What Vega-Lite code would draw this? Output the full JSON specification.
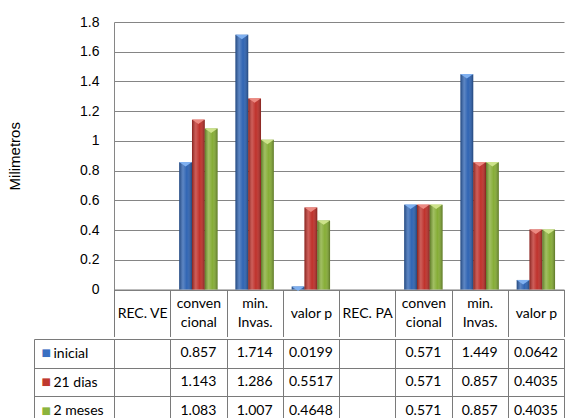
{
  "$schema": "https://vega.github.io/schema/vega-lite/v6.json",
  "background": "white",
  "padding": {"left": 7, "top": 15, "right": 0, "bottom": 0},
  "spacing": -5,
  "config": {"view": {"stroke": null}},
  "datasets": {
    "tabla": [
      {"col": "REC. VE", "serie": "inicial", "valor": null},
      {"col": "REC. VE", "serie": "21 dias", "valor": null},
      {"col": "REC. VE", "serie": "2 meses", "valor": null},
      {"col": "conven/cional (VE)", "serie": "inicial", "valor": 0.857},
      {"col": "conven/cional (VE)", "serie": "21 dias", "valor": 1.143},
      {"col": "conven/cional (VE)", "serie": "2 meses", "valor": 1.083},
      {"col": "min./Invas. (VE)", "serie": "inicial", "valor": 1.714},
      {"col": "min./Invas. (VE)", "serie": "21 dias", "valor": 1.286},
      {"col": "min./Invas. (VE)", "serie": "2 meses", "valor": 1.007},
      {"col": "valor p (VE)", "serie": "inicial", "valor": 0.0199},
      {"col": "valor p (VE)", "serie": "21 dias", "valor": 0.5517},
      {"col": "valor p (VE)", "serie": "2 meses", "valor": 0.4648},
      {"col": "REC. PA", "serie": "inicial", "valor": null},
      {"col": "REC. PA", "serie": "21 dias", "valor": null},
      {"col": "REC. PA", "serie": "2 meses", "valor": null},
      {"col": "conven/cional (PA)", "serie": "inicial", "valor": 0.571},
      {"col": "conven/cional (PA)", "serie": "21 dias", "valor": 0.571},
      {"col": "conven/cional (PA)", "serie": "2 meses", "valor": 0.571},
      {"col": "min./Invas. (PA)", "serie": "inicial", "valor": 1.449},
      {"col": "min./Invas. (PA)", "serie": "21 dias", "valor": 0.857},
      {"col": "min./Invas. (PA)", "serie": "2 meses", "valor": 0.857},
      {"col": "valor p (PA)", "serie": "inicial", "valor": 0.0642},
      {"col": "valor p (PA)", "serie": "21 dias", "valor": 0.4035},
      {"col": "valor p (PA)", "serie": "2 meses", "valor": 0.4035}
    ]
  },
  "vconcat": [
    {
      "width": 450,
      "height": 267.5,
      "data": {"name": "tabla"},
      "transform": [{"filter": "isValid(datum.valor)"}],
      "encoding": {
        "x": {
          "field": "col", "type": "nominal",
          "scale": {"domain": ["REC. VE", "conven/cional (VE)", "min./Invas. (VE)", "valor p (VE)", "REC. PA", "conven/cional (PA)", "min./Invas. (PA)", "valor p (PA)"], "paddingInner": 0, "paddingOuter": 0},
          "axis": {
            "title": null,
            "labelExpr": "isValid(datum.value) ? split(replace(replace(datum.value, ' (VE)', ''), ' (PA)', ''), '/') : ''",
            "labelAngle": 0, "labelFont": "Lato", "labelFontSize": 14, "labelColor": "#000000",
            "labelBaseline": "middle", "labelLineHeight": 18.5, "labelOverlap": false,
            "labelPadding": {
              "condition": {"test": "isValid(datum.value) && indexof(datum.value, '/') >= 0", "value": -32.8},
              "value": -23.5
            },
            "tickBand": "extent", "tickSize": 47, "tickColor": "#7a7a7a", "domainColor": "#7a7a7a", "grid": false
          }
        },
        "xOffset": {"field": "serie", "type": "nominal", "scale": {"domain": ["inicial", "21 dias", "2 meses"], "paddingInner": 0, "paddingOuter": 0.7}},
        "y": {
          "field": "valor", "type": "quantitative",
          "scale": {"domain": [0, 1.8], "nice": false},
          "axis": {
            "title": "Milimetros", "titleFont": "Liberation Sans", "titleFontSize": 15, "titleFontWeight": "normal", "titleColor": "#000000", "titlePadding": 57,
            "values": [0, 0.2, 0.4, 0.6, 0.8, 1, 1.2, 1.4, 1.6, 1.8], "format": "~g",
            "labelFont": "Liberation Sans", "labelFontSize": 14, "labelColor": "#000000", "labelPadding": 15,
            "ticks": false, "domainColor": "#868686", "gridColor": "#858585", "gridWidth": 1.2
          }
        }
      },
      "layer": [
        {
          "mark": {"type": "bar"},
          "encoding": {
            "color": {"field": "serie", "type": "nominal", "scale": {"domain": ["inicial", "21 dias", "2 meses"], "range": ["#2f64b3", "#bf312b", "#86ad36"]}, "legend": null}
          }
        },
        {
          "mark": {
            "type": "bar",
            "fill": {"gradient": "linear", "x1": 0, "x2": 1, "y1": 0, "y2": 0, "stops": [
              {"offset": 0, "color": "rgba(0,0,0,0.3)"},
              {"offset": 0.3, "color": "rgba(255,255,255,0.22)"},
              {"offset": 0.6, "color": "rgba(255,255,255,0)"},
              {"offset": 1, "color": "rgba(0,0,0,0.32)"}
            ]}
          }
        },
        {
          "mark": {"type": "point", "shape": "M-1,-0.35L1,-0.35L0,0.35Z", "filled": true, "size": 164, "yOffset": 2.2, "opacity": 1, "strokeWidth": 0},
          "encoding": {
            "fill": {"field": "serie", "type": "nominal", "scale": {"domain": ["inicial", "21 dias", "2 meses"], "range": ["#7fb0f0", "#ec8a82", "#cde38a"]}, "legend": null}
          }
        }
      ]
    },
    {
      "width": 450,
      "height": 86,
      "data": {"name": "tabla"},
      "encoding": {
        "x": {
          "field": "col", "type": "nominal",
          "scale": {"domain": ["REC. VE", "conven/cional (VE)", "min./Invas. (VE)", "valor p (VE)", "REC. PA", "conven/cional (PA)", "min./Invas. (PA)", "valor p (PA)"], "paddingInner": 0, "paddingOuter": 0},
          "axis": {"title": null, "labels": false, "ticks": false, "domain": false, "grid": true, "tickBand": "extent", "gridColor": "#7a7a7a", "zindex": 1}
        }
      },
      "layer": [
        {
          "mark": {"type": "rect", "fill": "white"},
          "encoding": {
            "y": {
              "field": "serie", "type": "nominal",
              "scale": {"domain": ["inicial", "21 dias", "2 meses"], "paddingInner": 0, "paddingOuter": 0},
              "axis": {
                "orient": "left", "title": null, "zindex": 1,
                "tickBand": "extent", "tickSize": 80, "tickColor": "#7a7a7a",
                "grid": true, "gridColor": "#7a7a7a", "domainColor": "#7a7a7a",
                "labelAlign": "left", "labelBaseline": "middle", "labelPadding": -19,
                "labelFont": "Lato", "labelFontSize": 14, "labelColor": "#000000"
              }
            }
          }
        },
        {
          "transform": [{"filter": "isValid(datum.valor)"}],
          "mark": {"type": "text", "font": "Lato", "fontSize": 14, "color": "#000000", "align": "center", "baseline": "middle"},
          "encoding": {
            "y": {
              "field": "serie", "type": "nominal",
              "axis": {
                "orient": "left", "offset": 80, "title": null, "zindex": 1,
                "ticks": false, "grid": false, "domainColor": "#7a7a7a",
                "labelExpr": "'■'", "labelAlign": "left", "labelBaseline": "middle", "labelPadding": -7,
                "labelFont": "DejaVu Sans", "labelFontSize": 10,
                "labelColor": {
                  "condition": [
                    {"test": "datum.value === 'inicial'", "value": "#3a70c2"},
                    {"test": "datum.value === '21 dias'", "value": "#c0392f"}
                  ],
                  "value": "#8cb43c"
                }
              }
            },
            "text": {"field": "valor", "type": "nominal"}
          }
        }
      ],
      "resolve": {"axis": {"y": "independent"}}
    }
  ]
}
